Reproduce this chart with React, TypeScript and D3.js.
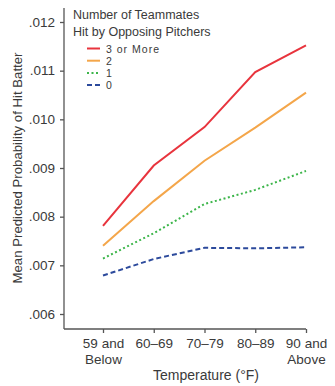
import React, { useEffect, useRef } from "react";
import * as d3 from "d3";

// categories + series
const tempBins = ["59 and|Below", "60–69", "70–79", "80–89", "90 and|Above"];
const yTicks = [0.006, 0.007, 0.008, 0.009, 0.01, 0.011, 0.012];

const threeOrMore = [0.00781, 0.00905, 0.00984, 0.01097, 0.01152];
const two = [0.0074, 0.00832, 0.00915, 0.00983, 0.01055];
const one = [0.00714, 0.00766, 0.00826, 0.00855, 0.00894];
const zero = [0.00679, 0.00713, 0.00736, 0.00735, 0.00737];

const seriesNames = ["3 or More", "2", "1", "0"];
const seriesColors = ["#e8343d", "#f4a64a", "#3cb54a", "#2c4a9c"];
const seriesDash = ["none", "none", "2,2.5", "5,3"];

const size = { width: 335, height: 386 };
const margin = { top: 8, left: 64, right: 28, bottom: 57 };

export default function App() {
  const ref = useRef<SVGSVGElement>(null);

  useEffect(() => {
    const svg = d3.select(ref.current);
    svg.selectAll("*").remove();

    const x = d3
      .scalePoint()
      .domain(tempBins)
      .range([103, 306]);

    const y = d3
      .scaleLinear()
      .domain([0.006, 0.012])
      .range([314, 22]);

    const bottom = size.height - margin.bottom;
    const font = "'Liberation Sans', Arial, sans-serif";
    const grey = "#3a3a3a";

    // y axis
    const yAxis = svg
      .append("g")
      .attr("transform", `translate(${margin.left},0)`)
      .call(
        d3
          .axisLeft(y)
          .tickValues(yTicks)
          .tickFormat((d) => d3.format(".3f")(d as number).replace(/^0/, ""))
          .tickSize(4)
          .tickPadding(5)
      );
    yAxis.select(".domain").attr("d", `M0,${margin.top}V${bottom}`);

    // x axis
    const xAxis = svg
      .append("g")
      .attr("transform", `translate(0,${bottom})`)
      .call(d3.axisBottom(x).tickSize(4).tickPadding(6).tickFormat(() => ""));
    xAxis.select(".domain").attr("d", `M${margin.left},0H306`);

    xAxis
      .selectAll(".tick")
      .append("text")
      .attr("fill", grey)
      .attr("text-anchor", "middle")
      .selectAll("tspan")
      .data((d) => (d as string).split("|"))
      .join("tspan")
      .attr("x", 0)
      .attr("y", (d, i) => 19 + i * 16)
      .text((d) => d);

    svg.selectAll(".domain, .tick line").attr("stroke", "#555").attr("stroke-width", 1.3);
    svg
      .selectAll(".tick text")
      .attr("fill", grey)
      .attr("font-size", 13.5)
      .attr("font-family", font);

    // axis titles
    svg
      .append("text")
      .attr("x", 206)
      .attr("y", 380)
      .attr("text-anchor", "middle")
      .attr("font-size", 14)
      .attr("font-family", font)
      .attr("fill", grey)
      .text("Temperature (°F)");

    svg
      .append("text")
      .attr("transform", "translate(22,168) rotate(-90)")
      .attr("text-anchor", "middle")
      .attr("font-size", 13.2)
      .attr("font-family", font)
      .attr("fill", grey)
      .text("Mean Predicted Probability of Hit Batter");

    // lines
    const allSeries = [threeOrMore, two, one, zero];
    const line = d3
      .line<number>()
      .x((d, i) => x(tempBins[i]) as number)
      .y((d) => y(d));

    svg
      .append("g")
      .selectAll("path")
      .data(allSeries.slice().reverse())
      .join("path")
      .attr("d", (d) => line(d))
      .attr("fill", "none")
      .attr("stroke", (d, i) => seriesColors[3 - i])
      .attr("stroke-width", 2)
      .attr("stroke-dasharray", (d, i) => seriesDash[3 - i]);

    // legend
    const legend = svg.append("g").attr("font-family", font).attr("fill", grey);
    legend
      .append("text")
      .attr("x", 73)
      .attr("y", 19)
      .attr("font-size", 12.5)
      .text("Number of Teammates");
    legend
      .append("text")
      .attr("x", 73)
      .attr("y", 36)
      .attr("font-size", 12.5)
      .text("Hit by Opposing Pitchers");

    const rows = legend
      .selectAll("g.row")
      .data(seriesNames)
      .join("g")
      .attr("class", "row")
      .attr("transform", (d, i) => `translate(0,${48.5 + i * 12.2})`);
    rows
      .append("line")
      .attr("x1", 87)
      .attr("x2", 100)
      .attr("stroke", (d, i) => seriesColors[i])
      .attr("stroke-width", 2)
      .attr("stroke-dasharray", (d, i) => seriesDash[i]);
    rows
      .append("text")
      .attr("x", 106)
      .attr("y", 4)
      .attr("font-size", 10.5)
      .attr("textLength", (d) => (d.length > 1 ? 53 : null))
      .text((d) => d);
  }, []);

  return (
    <svg
      ref={ref}
      width={size.width}
      height={size.height}
      style={{ position: "absolute", left: 0, top: 0, background: "#fff" }}
    />
  );
}
